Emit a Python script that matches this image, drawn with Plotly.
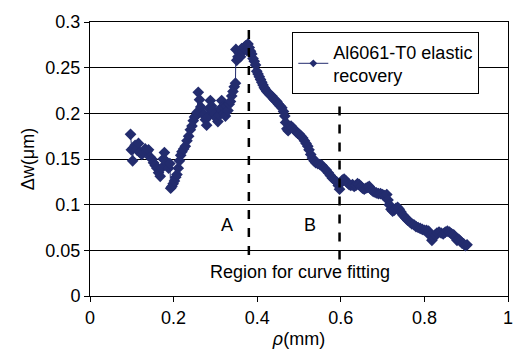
import plotly.graph_objects as go

rho_mm = [0.097, 0.099, 0.102, 0.104, 0.108, 0.112, 0.116, 0.120, 0.124, 0.128,
          0.132, 0.136, 0.140, 0.144, 0.148, 0.152, 0.156, 0.160, 0.164, 0.168,
          0.171, 0.175, 0.178, 0.181, 0.185, 0.188, 0.191, 0.193, 0.196, 0.199,
          0.202, 0.205, 0.208, 0.211, 0.214, 0.217, 0.220, 0.224, 0.228, 0.232,
          0.236, 0.240, 0.244, 0.247, 0.250, 0.253, 0.256, 0.259, 0.262, 0.265,
          0.268, 0.272, 0.276, 0.279, 0.282, 0.285, 0.288, 0.291, 0.294, 0.298,
          0.302, 0.306, 0.309, 0.312, 0.315, 0.318, 0.321, 0.324, 0.327, 0.330,
          0.333, 0.336, 0.339, 0.342, 0.345, 0.348, 0.349, 0.351, 0.354, 0.357,
          0.360, 0.363, 0.366, 0.369, 0.372, 0.375, 0.378, 0.381, 0.384, 0.387,
          0.390, 0.393, 0.396, 0.399, 0.402, 0.405, 0.408, 0.411, 0.414, 0.417,
          0.420, 0.423, 0.427, 0.431, 0.435, 0.439, 0.443, 0.447, 0.451, 0.455,
          0.459, 0.463, 0.466, 0.468, 0.471, 0.474, 0.477, 0.481, 0.485, 0.489,
          0.493, 0.497, 0.501, 0.505, 0.509, 0.513, 0.517, 0.521, 0.524, 0.528,
          0.532, 0.536, 0.540, 0.545, 0.550, 0.555, 0.560, 0.565, 0.570, 0.575,
          0.580, 0.585, 0.590, 0.594, 0.597, 0.600, 0.604, 0.608, 0.612, 0.616,
          0.620, 0.624, 0.628, 0.632, 0.636, 0.640, 0.644, 0.648, 0.652, 0.656,
          0.660, 0.664, 0.668, 0.672, 0.676, 0.680, 0.685, 0.690, 0.695, 0.700,
          0.705, 0.710, 0.713, 0.716, 0.720, 0.724, 0.728, 0.732, 0.736, 0.740,
          0.744, 0.748, 0.752, 0.756, 0.760, 0.765, 0.770, 0.775, 0.780, 0.785,
          0.790, 0.795, 0.800, 0.805, 0.810, 0.814, 0.818, 0.822, 0.826, 0.830,
          0.835, 0.840, 0.845, 0.850, 0.855, 0.860, 0.865, 0.870, 0.874, 0.878,
          0.882, 0.886, 0.890, 0.894, 0.898, 0.902]

dw_um = [0.177, 0.160, 0.148, 0.162, 0.165, 0.160, 0.167, 0.157, 0.155, 0.158,
         0.161, 0.158, 0.160, 0.152, 0.150, 0.146, 0.143, 0.140, 0.135, 0.131,
         0.140, 0.150, 0.157, 0.148, 0.145, 0.140, 0.145, 0.118, 0.120, 0.123,
         0.126, 0.130, 0.133, 0.140, 0.148, 0.154, 0.158, 0.161, 0.164, 0.170,
         0.175, 0.182, 0.186, 0.192, 0.196, 0.197, 0.201, 0.223, 0.215, 0.207,
         0.200, 0.199, 0.193, 0.187, 0.196, 0.205, 0.214, 0.208, 0.203, 0.199,
         0.195, 0.191, 0.198, 0.205, 0.214, 0.207, 0.200, 0.197, 0.208, 0.203,
         0.210, 0.213, 0.219, 0.224, 0.229, 0.233, 0.270, 0.258, 0.262, 0.266,
         0.262, 0.271, 0.268, 0.272, 0.274, 0.269, 0.276, 0.272, 0.268, 0.265,
         0.260, 0.257, 0.253, 0.246, 0.243, 0.240, 0.237, 0.234, 0.231, 0.228,
         0.226, 0.224, 0.222, 0.220, 0.219, 0.216, 0.214, 0.213, 0.210, 0.208,
         0.206, 0.202, 0.197, 0.190, 0.183, 0.181, 0.185, 0.186, 0.184, 0.182,
         0.180, 0.178, 0.177, 0.175, 0.173, 0.170, 0.167, 0.164, 0.160, 0.155,
         0.151, 0.148, 0.146, 0.145, 0.144, 0.143, 0.140, 0.138, 0.135, 0.132,
         0.129, 0.127, 0.125, 0.121, 0.117, 0.124, 0.127, 0.128, 0.126, 0.124,
         0.122, 0.121, 0.122, 0.120, 0.121, 0.123, 0.122, 0.120, 0.118, 0.117,
         0.118, 0.119, 0.120, 0.117, 0.115, 0.114, 0.113, 0.112, 0.112, 0.111,
         0.110, 0.111, 0.105, 0.100, 0.095, 0.093, 0.094, 0.096, 0.097, 0.095,
         0.092, 0.089, 0.087, 0.085, 0.083, 0.081, 0.079, 0.078, 0.076, 0.075,
         0.074, 0.073, 0.072, 0.072, 0.071, 0.066, 0.061, 0.064, 0.067, 0.069,
         0.070, 0.069, 0.068, 0.070, 0.071, 0.070, 0.068, 0.067, 0.064, 0.061,
         0.062, 0.060, 0.058, 0.057, 0.055, 0.056]

x_ticks = [0, 0.2, 0.4, 0.6, 0.8, 1]
x_tick_labels = ["0", "0.2", "0.4", "0.6", "0.8", "1"]
y_ticks = [0, 0.05, 0.1, 0.15, 0.2, 0.25, 0.3]
y_tick_labels = ["0", "0.05", "0.1", "0.15", "0.2", "0.25", "0.3"]

series_name = "Al6061-T0 elastic<br>recovery"
boundary_AB = 0.38
boundary_end = 0.597

navy = "#232C6E"
font_family = "Liberation Sans, Arial, sans-serif"

fig = go.Figure()
fig.add_trace(go.Scatter(
    x=rho_mm, y=dw_um, mode="lines+markers",
    name=series_name, showlegend=False, legendgroup="s",
    line=dict(color=navy, width=1),
    marker=dict(symbol="diamond", size=9, color=navy),
))
# legend entry with the small marker used in the original legend
fig.add_trace(go.Scatter(
    x=[None], y=[None], mode="lines+markers",
    name=series_name, legendgroup="s",
    line=dict(color=navy, width=1),
    marker=dict(symbol="diamond", size=6, color=navy),
))

fig.add_shape(type="line", x0=boundary_AB, x1=boundary_AB, y0=0.045, y1=0.294,
              xref="x", yref="y", line=dict(color="black", width=2.5, dash="dash"))
fig.add_shape(type="line", x0=boundary_end, x1=boundary_end, y0=0.04, y1=0.213,
              xref="x", yref="y", line=dict(color="black", width=2.5, dash="dash"))

fig.add_annotation(x=0.327, y=0.078, text="A", showarrow=False,
                   font=dict(size=18, color="black", family=font_family))
fig.add_annotation(x=0.526, y=0.078, text="B", showarrow=False,
                   font=dict(size=18, color="black", family=font_family))
fig.add_annotation(x=0.502, y=0.026, text="Region for curve fitting", showarrow=False,
                   font=dict(size=18, color="black", family=font_family))

fig.update_layout(
    width=525, height=357,
    margin=dict(l=90, r=13, t=16, b=60),
    plot_bgcolor="white", paper_bgcolor="white",
    font=dict(family=font_family, size=18, color="black"),
    showlegend=True,
    legend=dict(x=0.484, y=0.962, xanchor="left", yanchor="top",
                bgcolor="white", bordercolor="black", borderwidth=1,
                font=dict(size=18), itemsizing="trace"),
    xaxis=dict(range=[0, 1], tickvals=x_ticks, ticktext=x_tick_labels,
               showgrid=False, zeroline=False, showline=True, linecolor="black",
               linewidth=1, mirror=True, ticks="outside", ticklen=5,
               tickcolor="black",
               title=dict(text="<i>ρ</i>(mm)", standoff=5, font=dict(size=18))),
    yaxis=dict(range=[0, 0.3], tickvals=y_ticks, ticktext=y_tick_labels,
               showgrid=True, gridcolor="black", gridwidth=1, zeroline=False,
               showline=True, linecolor="black", linewidth=1, mirror=True,
               ticks="outside", ticklen=5, tickcolor="black",
               title=dict(text="Δw(μm)", standoff=6, font=dict(size=18))),
)

fig.write_html("out.html")
